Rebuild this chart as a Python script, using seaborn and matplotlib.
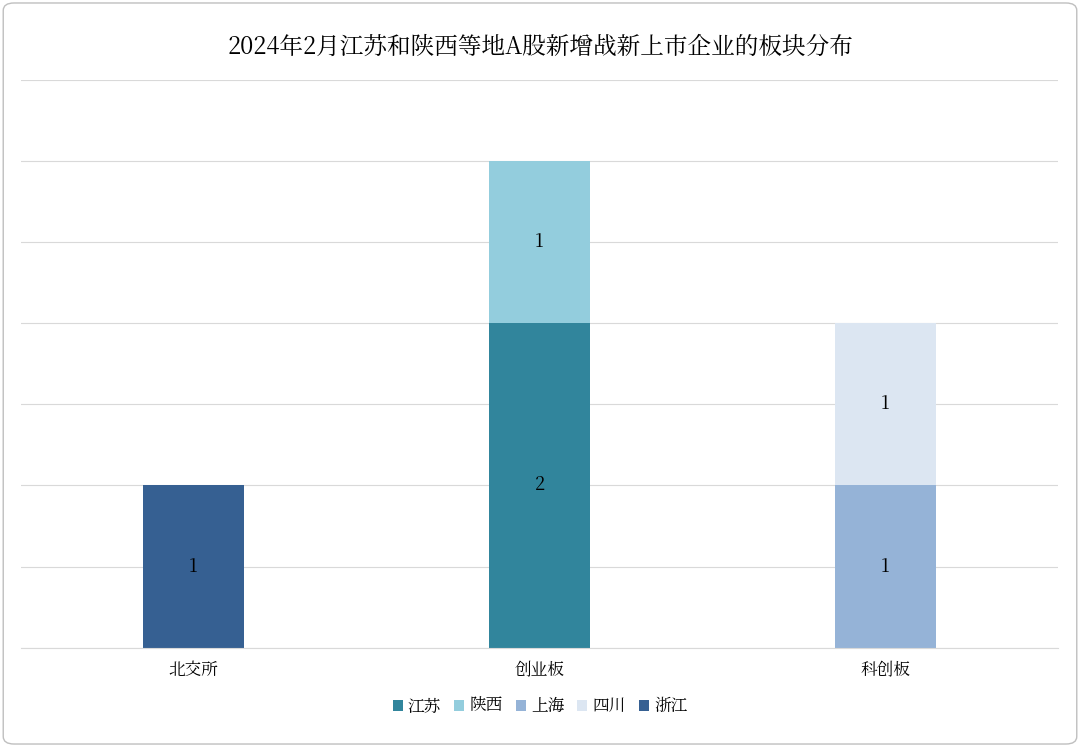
import matplotlib
matplotlib.use("Agg")
import matplotlib.pyplot as plt
from matplotlib import font_manager
import seaborn as sns
import numpy as np
import pandas as pd

cjk = [f.name for f in font_manager.fontManager.ttflist if "CJK" in f.name]
plt.rcParams["font.family"] = "sans-serif"
plt.rcParams["font.sans-serif"] = (["Noto Sans CJK SC"] + cjk + ["DejaVu Sans"])

boards = ["北交所", "创业板", "科创板"]
regions = ["江苏", "陕西", "上海", "四川", "浙江"]
jiangsu = [0, 2, 0]
shaanxi = [0, 1, 0]
shanghai = [0, 0, 1]
sichuan = [0, 0, 1]
zhejiang = [1, 0, 0]
colors = ["#31859C", "#93CDDD", "#95B3D7", "#DCE6F2", "#366092"]

series = [jiangsu, shaanxi, shanghai, sichuan, zhejiang]

fig = plt.figure(figsize=(10.8, 7.47), dpi=100)
ax = fig.add_axes([0.019, 0.133, 0.961, 0.76])

bottom = np.zeros(len(boards))
for name, vals, col in zip(regions, series, colors):
    df = pd.DataFrame({"board": boards, "v": vals})
    sns.barplot(data=df, x="board", y="v", color=col, width=0.29,
                ax=ax, bottom=bottom, label=name, saturation=1)
    for i, v in enumerate(vals):
        if v > 0:
            ax.text(i, bottom[i] + v / 2, str(v), ha="center", va="center",
                    fontsize=13, color="black")
    bottom += np.array(vals)

if ax.get_legend() is not None:
    ax.get_legend().remove()

ax.set_ylim(0, 3.5)
ax.set_yticks(np.arange(0, 3.51, 0.5))
ax.set_yticklabels([])
ax.tick_params(axis="y", length=0)
ax.tick_params(axis="x", length=0, labelsize=12, pad=10)
ax.grid(axis="y", color="#D9D9D9", linewidth=0.8)
ax.set_axisbelow(True)
for s in ["top", "right", "left"]:
    ax.spines[s].set_visible(False)
ax.spines["bottom"].set_color("#D9D9D9")
ax.set_xlabel("")
ax.set_ylabel("")
ax.set_xlim(-0.5, 2.5)

handles, labels = ax.get_legend_handles_labels()
fig.legend(handles, labels, loc="center", bbox_to_anchor=(0.5, 0.054), ncol=5,
           frameon=False, fontsize=12, handlelength=0.6, handleheight=0.6,
           handletextpad=0.3, columnspacing=0.8)

fig.suptitle("2024年2月江苏和陕西等地A股新增战新上市企业的板块分布", y=0.955,
             fontsize=17)

fig.patches.append(matplotlib.patches.FancyBboxPatch(
    (0.003, 0.004), 0.994, 0.992, boxstyle="round,pad=0,rounding_size=0.01",
    transform=fig.transFigure, fill=False, edgecolor="#BFBFBF", linewidth=1))

fig.savefig("out.png", dpi=100)
